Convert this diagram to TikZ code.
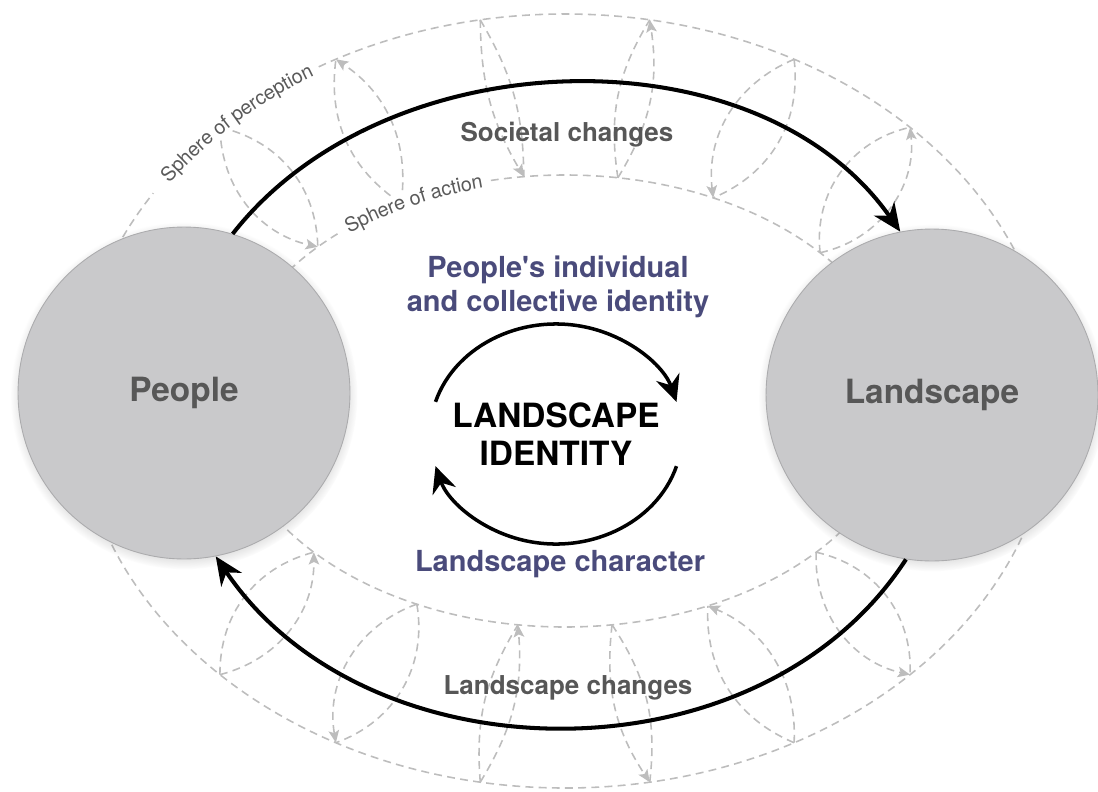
\documentclass[tikz,border=0pt]{standalone}
\usepackage{fontspec}
\setmainfont{TeX Gyre Heros}
\usetikzlibrary{backgrounds}
\usetikzlibrary{arrows.meta}
\usetikzlibrary{shadows}
\usetikzlibrary{decorations.text}
\definecolor{discfill}{HTML}{C9C9CB}
\definecolor{discline}{HTML}{ABABAD}
\definecolor{disctext}{HTML}{575757}
\definecolor{idblue}{HTML}{4A4B7B}
\definecolor{dashgray}{HTML}{BDBDBD}
\definecolor{spheretext}{HTML}{5A5A5A}
\tikzstyle{scheme}=[x=0.02cm, y=0.02cm, font=\bfseries]
\tikzstyle{disc}=[circle, fill=discfill, draw=discline, line width=0.5pt, minimum size=6.64cm, inner sep=0pt, text=disctext, font=\bfseries\fontsize{19}{22}\selectfont, circular drop shadow={shadow xshift=0pt, shadow yshift=-1.5pt, shadow scale=1.045, opacity=0.5}]
\tikzstyle{core}=[align=center, font=\bfseries\fontsize{19}{21.5}\selectfont]
\tikzstyle{facet}=[align=center, text=idblue, font=\bfseries\fontsize{16.5}{19.5}\selectfont]
\tikzstyle{change}=[text=disctext, font=\bfseries\fontsize{14.8}{17}\selectfont]
\tikzstyle{sphere}=[draw=dashgray, line width=0.9pt, dash pattern=on 4.5pt off 3pt]
\tikzstyle{flow}=[sphere, -{Stealth[length=7pt, width=6pt, inset=1.5pt]}]
\tikzstyle{whiteout}=[draw=white, line width=11pt]
\tikzstyle{edge}=[line width=2.3pt, -{Stealth[length=16pt, width=14pt, inset=5pt]}]
\tikzstyle{turn}=[line width=2pt, -{Stealth[length=15pt, width=14pt, inset=5pt]}]

\begin{document}
\begin{tikzpicture}[scheme]
	\useasboundingbox (0,0) rectangle (1098,-791);
	%% spheres of perception and action
	\begin{scope}[on background layer]
	\begin{scope}[shift={(565,-401)}]
		\draw[sphere] (0,0) ellipse [x radius=488, y radius=387];
		\draw[sphere] (0,0) ellipse [x radius=338, y radius=226];
		%%
		\coordinate (o1) at (135:488 and 387);
		\coordinate (i1) at (137:338 and 226);
		\coordinate (o2) at (118:488 and 387);
		\coordinate (i2) at (119:338 and 226);
		\coordinate (o3) at (100:488 and 387);
		\coordinate (i3) at (97:338 and 226);
		\coordinate (o4) at (80:488 and 387);
		\coordinate (i4) at (81:338 and 226);
		\coordinate (o5) at (62:488 and 387);
		\coordinate (i5) at (64:338 and 226);
		\coordinate (o6) at (45:488 and 387);
		\coordinate (i6) at (41:338 and 226);
		%%
		\coordinate (o7) at (-135:488 and 387);
		\coordinate (i7) at (-138:338 and 226);
		\coordinate (o8) at (-118:488 and 387);
		\coordinate (i8) at (-116:338 and 226);
		\coordinate (o9) at (-100:488 and 387);
		\coordinate (i9) at (-98:338 and 226);
		\coordinate (o10) at (-80:488 and 387);
		\coordinate (i10) at (-82:338 and 226);
		\coordinate (o11) at (-62:488 and 387);
		\coordinate (i11) at (-65:338 and 226);
		\coordinate (o12) at (-45:488 and 387);
		\coordinate (i12) at (-42:338 and 226);
		%%
		\draw[sphere] (o1) to[bend left=38] (i1);
		\draw[flow] (o1) to[bend right=38] (i1);
		\draw[sphere] (i2) to[bend left=32] (o2);
		\draw[flow] (i2) to[bend right=32] (o2);
		\draw[sphere] (o3) to[bend left=15] (i3);
		\draw[flow] (o3) to[bend right=15] (i3);
		\draw[sphere] (i4) to[bend left=20] (o4);
		\draw[flow] (i4) to[bend right=20] (o4);
		\draw[sphere] (o5) to[bend left=37] (i5);
		\draw[flow] (o5) to[bend right=37] (i5);
		\draw[sphere] (i6) to[bend left=42] (o6);
		\draw[flow] (i6) to[bend right=42] (o6);
		%%
		\draw[sphere] (o7) to[bend left=38] (i7);
		\draw[flow] (o7) to[bend right=38] (i7);
		\draw[sphere] (i8) to[bend left=40] (o8);
		\draw[flow] (i8) to[bend right=40] (o8);
		\draw[sphere] (o9) to[bend left=18] (i9);
		\draw[flow] (o9) to[bend right=18] (i9);
		\draw[sphere] (i10) to[bend left=20] (o10);
		\draw[flow] (i10) to[bend right=20] (o10);
		\draw[sphere] (o11) to[bend left=35] (i11);
		\draw[flow] (o11) to[bend right=35] (i11);
		\draw[sphere] (i12) to[bend left=40] (o12);
		\draw[flow] (i12) to[bend right=40] (o12);
		%%
		\draw[whiteout] (147.5:488 and 387) arc[start angle=147.5, end angle=120.5, x radius=488, y radius=387];
		\path[decorate, decoration={text along path, text={|\mdseries\fontsize{11.3}{13}\selectfont|Sphere of perception}, text align=center, text color=spheretext, raise=-3.5pt}] (147:488 and 387) arc[start angle=147, end angle=119.5, x radius=488, y radius=387];
		\draw[whiteout] (132:338 and 226) arc[start angle=132, end angle=103, x radius=338, y radius=226];
		\path[decorate, decoration={text along path, text={|\mdseries\fontsize{11.3}{13}\selectfont|Sphere of action}, text align=center, text color=spheretext, raise=-3.5pt}] (135:338 and 226) arc[start angle=135, end angle=100, x radius=338, y radius=226];
	\end{scope}
	\end{scope}
	%%%%%%
	\draw (184,-393) node[disc] (people) {People};
	\draw (932,-395) node[disc] (landscape) {Landscape};
	%%
	\draw[edge] (people.73) to[out=52, in=125, looseness=0.95] (landscape.101);
	\draw[edge] (landscape.261) to[out=237, in=304] (people.281);
	%%
	\draw (567,-135) node[change] (societal) {Societal changes};
	\draw (568,-688) node[change] (landchange) {Landscape changes};
	%%%%%%
	\draw (558,-287) node[facet] (selfhood) {People\textquotesingle s individual\\and collective identity};
	\draw (556,-434) node[core] (ident) {LANDSCAPE\\IDENTITY};
	\draw (560,-564) node[facet] (character) {Landscape character};
	%%
	\draw[turn] ([shift={(163:126 and 110)}]ident.center) arc[start angle=163, end angle=17, x radius=126, y radius=110];
	\draw[turn] ([shift={(-17:126 and 110)}]ident.center) arc[start angle=-17, end angle=-163, x radius=126, y radius=110];
\end{tikzpicture}
\end{document}
